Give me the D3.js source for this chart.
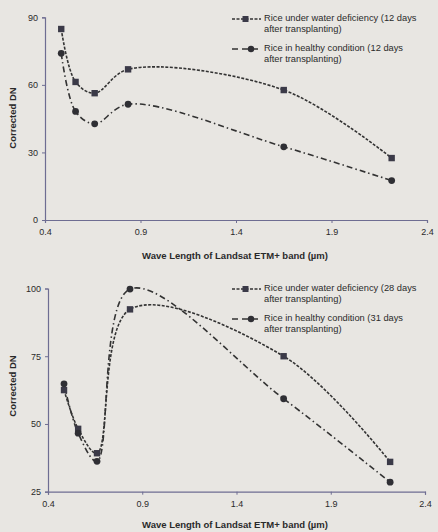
<!DOCTYPE html>
<meta charset="utf-8">
<script src="https://d3js.org/d3.v7.min.js"></script>
<style>
  body { margin: 0; background: #e8e6e2; }
  text { font-family: "Liberation Sans", Arial, sans-serif; fill: #2a2a2a; }
</style>
<div id="my_dataviz"></div>
<script>

// band centres of Landsat ETM+ (um)
var bands = [0.485, 0.56, 0.66, 0.835, 1.65, 2.215];
var xTicks = [0.4, 0.9, 1.4, 1.9, 2.4];

// top panel (12 days)
var waterTop = [84.8, 61.3, 56.3, 66.9, 57.7, 27.5];
var healthyTop = [74.0, 48.2, 42.7, 51.4, 32.5, 17.5];
var yTicksTop = [0, 30, 60, 90];
var legendTop = [["Rice under water deficiency (12 days", "after transplanting)"],
                 ["Rice in healthy condition (12 days", "after transplanting)"]];

// bottom panel (28 / 31 days)
var waterBot = [62.5, 48.2, 39.2, 92.3, 75.0, 36.0];
var healthyBot = [64.8, 46.6, 36.2, 99.8, 59.3, 28.5];
var yTicksBot = [25, 50, 75, 100];
var legendBot = [["Rice under water deficiency (28 days", "after transplanting)"],
                 ["Rice in healthy condition (31 days", "after transplanting)"]];

var svg = d3.select("#my_dataviz")
  .append("svg")
    .attr("width", 438)
    .attr("height", 532);

var axisColor = "#6e6d92";

function drawPanel(opt) {
  var x = d3.scaleLinear().domain([0.4, 2.4]).range([opt.x0, opt.x1]);
  var y = d3.scaleLinear().domain(opt.yDomain).range([opt.y0, opt.y1]);
  var g = svg.append("g");

  // axes
  var xa = g.append("g")
    .attr("transform", "translate(0," + opt.y0 + ")")
    .call(d3.axisBottom(x).tickValues(xTicks).tickSize(3).tickPadding(6).tickFormat(d3.format(".1f")));
  var ya = g.append("g")
    .attr("transform", "translate(" + opt.x0 + ",0)")
    .call(d3.axisLeft(y).tickValues(opt.yTicks).tickSize(3).tickPadding(4));
  [xa, ya].forEach(function(a) {
    a.select(".domain").attr("stroke", axisColor).attr("stroke-width", 1.2);
    a.selectAll(".tick line").attr("stroke", axisColor);
    a.selectAll(".tick text").style("font-size", "9px").attr("fill", "#444")
      .style("font-family", "'Liberation Sans', Arial, sans-serif");
  });

  var line = d3.line()
    .x(function(d) { return x(d[0]); })
    .y(function(d) { return y(d[1]); })
    .curve(d3.curveCatmullRom.alpha(0.5));

  var s1 = bands.map(function(b, i) { return [b, opt.water[i]]; });
  var s2 = bands.map(function(b, i) { return [b, opt.healthy[i]]; });

  g.append("path").attr("d", line(s2))
    .attr("fill", "none").attr("stroke", "#333").attr("stroke-width", 1.6)
    .attr("stroke-dasharray", "6,3,1.5,3");
  g.append("path").attr("d", line(s1))
    .attr("fill", "none").attr("stroke", "#333").attr("stroke-width", 1.6)
    .attr("stroke-dasharray", "3,1.5");

  g.selectAll("sq").data(s1).enter().append("rect")
    .attr("x", function(d) { return x(d[0]) - 3.2; })
    .attr("y", function(d) { return y(d[1]) - 3.2; })
    .attr("width", 6.4).attr("height", 6.4)
    .attr("fill", "#3b3a48");
  g.selectAll("ci").data(s2).enter().append("circle")
    .attr("cx", function(d) { return x(d[0]); })
    .attr("cy", function(d) { return y(d[1]); })
    .attr("r", 3.4)
    .attr("fill", "#2f2f34");

  // axis titles
  g.append("text")
    .attr("text-anchor", "middle")
    .attr("transform", "translate(16," + opt.yTitle + ") rotate(-90)")
    .style("font-size", "9.5px").style("font-weight", "bold")
    .text("Corrected DN");
  g.append("text")
    .attr("text-anchor", "middle")
    .attr("x", 235).attr("y", opt.xTitle)
    .style("font-size", "9.5px").style("font-weight", "bold")
    .text("Wave Length of Landsat ETM+ band (\u00b5m)");

  // legend
  var ly = opt.legendY;
  [0, 1].forEach(function(i) {
    var yy = ly + i * 30;
    g.append("line").attr("x1", 232).attr("x2", 261).attr("y1", yy).attr("y2", yy)
      .attr("stroke", "#333").attr("stroke-width", 1.6)
      .attr("stroke-dasharray", i == 0 ? "3,1.5" : "6,4");
    if (i == 0) {
      g.append("rect").attr("x", 242.5).attr("y", yy - 3).attr("width", 6).attr("height", 6).attr("fill", "#3b3a48");
    } else {
      g.append("circle").attr("cx", 251).attr("cy", yy).attr("r", 3.2).attr("fill", "#2f2f34");
    }
    opt.legend[i].forEach(function(t, j) {
      g.append("text")
        .attr("x", 264).attr("y", yy + j * 11)
        .attr("dominant-baseline", "middle")
        .style("font-size", "9.3px")
        .text(t);
    });
  });
}

drawPanel({x0: 45, x1: 427, y0: 220, y1: 17.3, yDomain: [0, 90], yTicks: yTicksTop,
  water: waterTop, healthy: healthyTop, legend: legendTop, legendY: 19, yTitle: 118, xTitle: 259});

drawPanel({x0: 48, x1: 425, y0: 491.7, y1: 288.5, yDomain: [25, 100], yTicks: yTicksBot,
  water: waterBot, healthy: healthyBot, legend: legendBot, legendY: 289, yTitle: 386, xTitle: 528});

</script>
